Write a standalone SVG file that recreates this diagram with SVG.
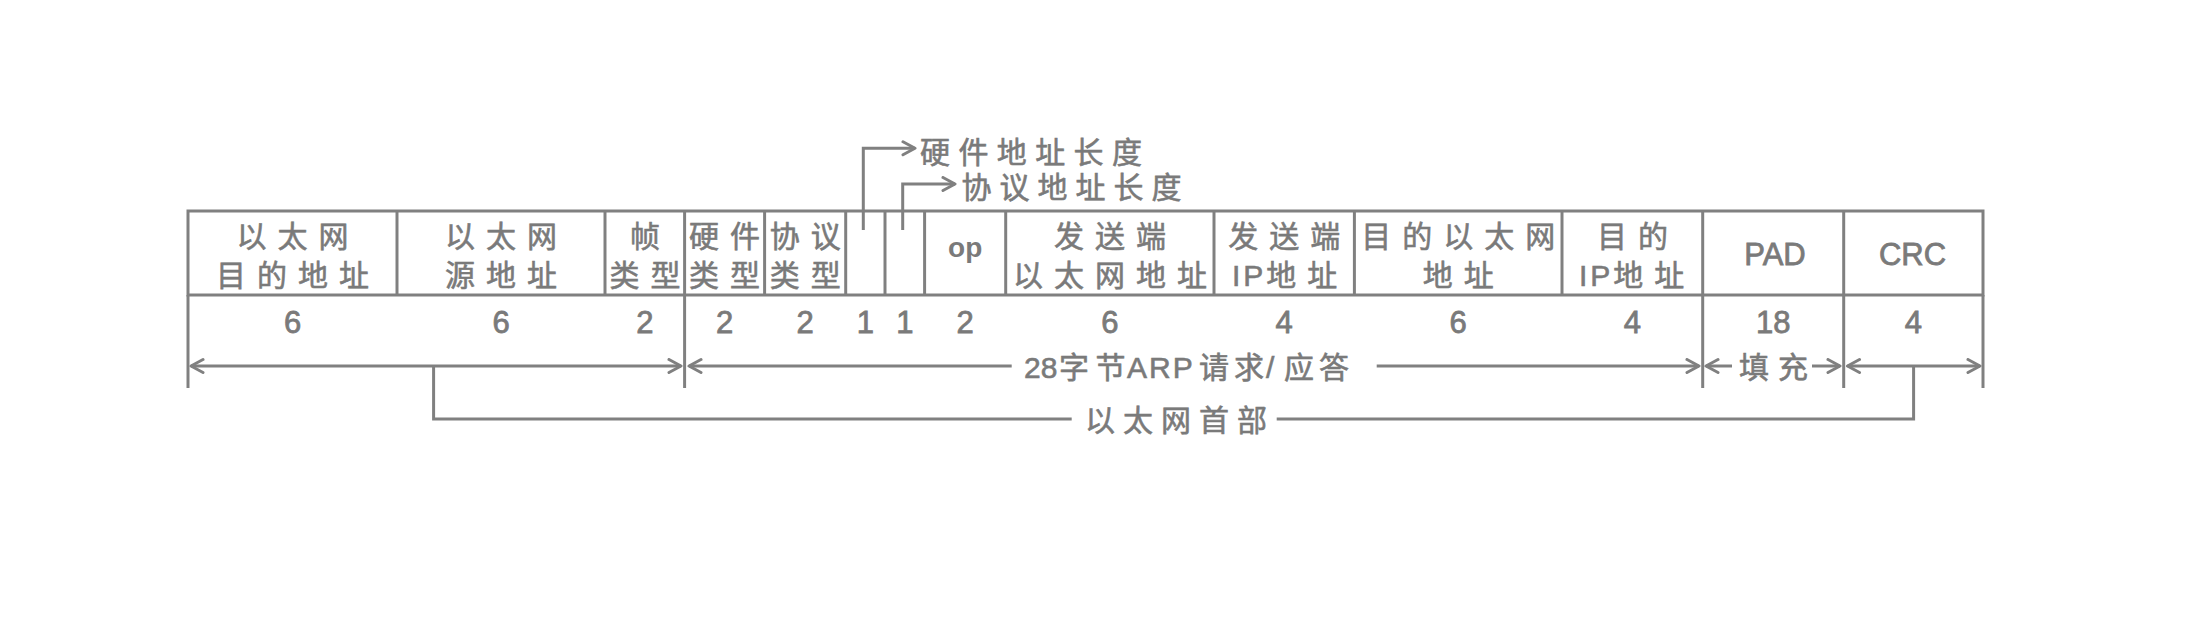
<svg xmlns="http://www.w3.org/2000/svg" width="2212" height="620" viewBox="0 0 2212 620">
<defs>
<style>
.ln{stroke:#808080;stroke-width:3;fill:none}
.cell{stroke:#808080;stroke-width:3;fill:none}
.t{font-family:"Liberation Sans","Noto Sans CJK SC",sans-serif;font-size:30px;fill:#7a7a7a;stroke:#7a7a7a;stroke-width:0.6}
.h{letter-spacing:11px;text-anchor:middle}
.ip{letter-spacing:3px}
.n{font-family:"Liberation Sans",sans-serif;font-size:31px;fill:#7a7a7a;text-anchor:middle;stroke:#7a7a7a;stroke-width:0.8}
.big{font-family:"Liberation Sans",sans-serif;font-size:31px;fill:#7a7a7a;text-anchor:middle;stroke:#7a7a7a;stroke-width:0.8}
</style>
<marker id="ah" markerUnits="userSpaceOnUse" markerWidth="20" markerHeight="20" viewBox="0 0 20 20" refX="14" refY="8" orient="auto-start-reverse">
<path d="M2,1.5 L14,8 L2,14.5" fill="none" stroke="#808080" stroke-width="3" stroke-linecap="round" stroke-linejoin="round"/>
</marker>
</defs>
<rect width="2212" height="620" fill="#ffffff"/>

<g id="frame">
<rect class="cell" x="188" y="211" width="1795" height="84"/>
<line class="ln" x1="188" y1="295" x2="188" y2="388"/>
<line class="ln" x1="684.6" y1="295" x2="684.6" y2="388"/>
<line class="ln" x1="1702.7" y1="295" x2="1702.7" y2="388"/>
<line class="ln" x1="1843.7" y1="295" x2="1843.7" y2="388"/>
<line class="ln" x1="1983" y1="295" x2="1983" y2="388"/>
</g>

<g id="f-eth-dst">
<text class="t h" x="298" y="247">以太网</text>
<text class="t h" x="298" y="286">目的地址</text>
<text class="n" x="292.5" y="333">6</text>
</g>
<g id="f-eth-src">
<line class="ln" x1="397" y1="211" x2="397" y2="295"/>
<text class="t h" x="506.5" y="247">以太网</text>
<text class="t h" x="506.5" y="286">源地址</text>
<text class="n" x="501" y="333">6</text>
</g>
<g id="f-frame-type">
<line class="ln" x1="605" y1="211" x2="605" y2="295"/>
<text class="t h" x="650.5" y="247">帧</text>
<text class="t h" x="650.5" y="286">类型</text>
<text class="n" x="644.8" y="333">2</text>
</g>
<g id="f-hw-type">
<line class="ln" x1="684.6" y1="211" x2="684.6" y2="295"/>
<text class="t h" x="730" y="247">硬件</text>
<text class="t h" x="730" y="286">类型</text>
<text class="n" x="724.6" y="333">2</text>
</g>
<g id="f-proto-type">
<line class="ln" x1="764.6" y1="211" x2="764.6" y2="295"/>
<text class="t h" x="810.7" y="247">协议</text>
<text class="t h" x="810.7" y="286">类型</text>
<text class="n" x="805.2" y="333">2</text>
</g>
<g id="f-hw-len">
<line class="ln" x1="845.7" y1="211" x2="845.7" y2="295"/>
<text class="n" x="865.4" y="333">1</text>
</g>
<g id="f-proto-len">
<line class="ln" x1="885" y1="211" x2="885" y2="295"/>
<text class="n" x="904.8" y="333">1</text>
</g>
<g id="f-op">
<line class="ln" x1="924.6" y1="211" x2="924.6" y2="295"/>
<text x="965.2" y="257" style="font-family:'Liberation Sans',sans-serif;font-size:28px;font-weight:bold;fill:#7a7a7a;text-anchor:middle">op</text>
<text class="n" x="965.2" y="333">2</text>
</g>
<g id="f-snd-eth">
<line class="ln" x1="1005.7" y1="211" x2="1005.7" y2="295"/>
<text class="t h" x="1115.4" y="247">发送端</text>
<text class="t h" x="1115.4" y="286">以太网地址</text>
<text class="n" x="1109.9" y="333">6</text>
</g>
<g id="f-snd-ip">
<line class="ln" x1="1214" y1="211" x2="1214" y2="295"/>
<text class="t h" x="1289.7" y="247">发送端</text>
<text class="t" x="1232" y="286"><tspan class="ip">IP</tspan><tspan style="letter-spacing:11px">地址</tspan></text>
<text class="n" x="1284.2" y="333">4</text>
</g>
<g id="f-dst-eth">
<line class="ln" x1="1354.4" y1="211" x2="1354.4" y2="295"/>
<text class="t h" x="1463.7" y="247">目的以太网</text>
<text class="t h" x="1463.7" y="286">地址</text>
<text class="n" x="1458.2" y="333">6</text>
</g>
<g id="f-dst-ip">
<line class="ln" x1="1562" y1="211" x2="1562" y2="295"/>
<text class="t h" x="1637.9" y="247">目的</text>
<text class="t" x="1579" y="286"><tspan class="ip">IP</tspan><tspan style="letter-spacing:11px">地址</tspan></text>
<text class="n" x="1632.4" y="333">4</text>
</g>
<g id="f-pad">
<line class="ln" x1="1702.7" y1="211" x2="1702.7" y2="295"/>
<text class="big" x="1775" y="265">PAD</text>
<text class="n" x="1773.2" y="333">18</text>
</g>
<g id="f-crc">
<line class="ln" x1="1843.7" y1="211" x2="1843.7" y2="295"/>
<text class="big" x="1912.5" y="265">CRC</text>
<text class="n" x="1913.4" y="333">4</text>
</g>

<g id="connectors">
<path class="ln" d="M863.3,230 V148.3 H915" marker-end="url(#ah)"/>
<path class="ln" d="M902.7,230 V184 H955" marker-end="url(#ah)"/>
<path class="ln" d="M191,366 H681" marker-start="url(#ah)" marker-end="url(#ah)"/>
<path class="ln" d="M689,366 H1011.7" marker-start="url(#ah)"/>
<path class="ln" d="M1376.7,366 H1699" marker-end="url(#ah)"/>
<path class="ln" d="M1706,366 H1732" marker-start="url(#ah)"/>
<path class="ln" d="M1812,366 H1840" marker-end="url(#ah)"/>
<path class="ln" d="M1847.5,366 H1980" marker-start="url(#ah)" marker-end="url(#ah)"/>
<path class="ln" d="M433.6,366 V419 H1071.7"/>
<path class="ln" d="M1276.7,419 H1913.6 V366"/>
</g>

<g id="labels">
<text class="t" x="920" y="162.5" style="letter-spacing:8.4px">硬件地址长度</text>
<text class="t" x="961.5" y="197.5" style="letter-spacing:8px">协议地址长度</text>
<text class="t" y="377.5"><tspan x="1024">28</tspan><tspan x="1059">字</tspan><tspan x="1095.5">节</tspan><tspan x="1127" style="letter-spacing:2px">ARP</tspan><tspan x="1199">请</tspan><tspan x="1234">求</tspan><tspan x="1266">/</tspan><tspan x="1284">应</tspan><tspan x="1319">答</tspan></text>
<text class="t" x="1739" y="377.5" style="letter-spacing:9px">填充</text>
<text class="t" x="1085" y="430.5" style="letter-spacing:8px">以太网首部</text>
</g>
</svg>
